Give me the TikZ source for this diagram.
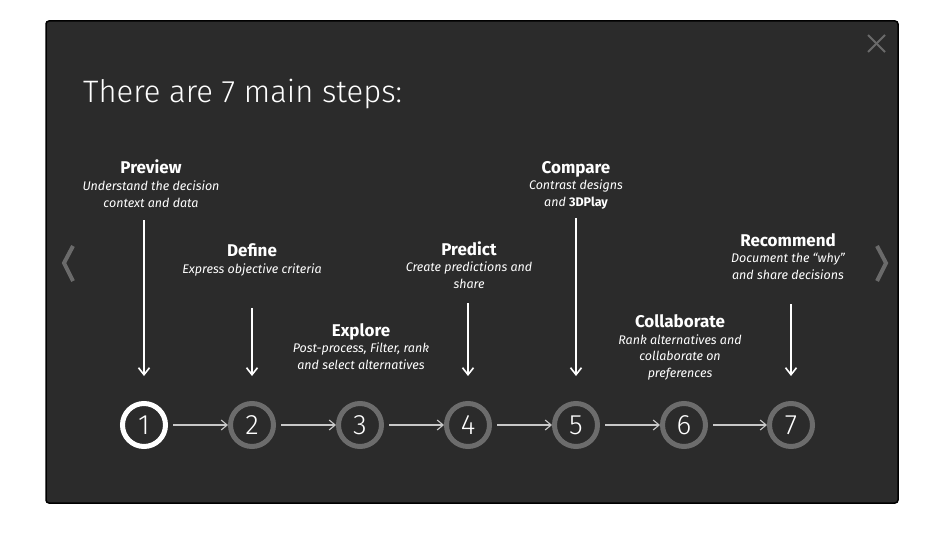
\documentclass[tikz,border=0pt]{standalone}
\usepackage{fontspec}
\setmainfont{Fira Sans}
\newfontfamily\lightfont{Fira Sans Light}
\usetikzlibrary{arrows.meta}

\definecolor{panel}{HTML}{2B2B2B}
\definecolor{ringgray}{HTML}{6C6C6C}
\definecolor{linkgray}{HTML}{C8C8C8}
\definecolor{navgray}{HTML}{6A6A6A}

\tikzset{
  steptext/.style={align=center, text=white, inner sep=0pt, anchor=base,
    font=\fontsize{12.5}{16.5}\selectfont\itshape},
  ring/.style={circle, draw=ringgray, line width=5pt, minimum size=43pt,
    inner sep=0pt, text=white, font=\lightfont\fontsize{28}{30}\selectfont},
  link/.style={draw=linkgray, line width=1.1pt,
    -{Straight Barb[length=6pt,width=10pt]}, shorten <=5pt},
  drop/.style={draw=white, line width=1.6pt,
    -{Straight Barb[length=7pt,width=11pt]}, shorten >=25pt},
}
\newcommand{\steptitle}[1]{{\upshape\bfseries\fontsize{17}{20}\selectfont #1}}

\begin{document}
\begin{tikzpicture}[x=1pt,y=-1pt]

        % page and panel
        \fill [white] (0,0) rectangle (949,540) ;
        \useasboundingbox (0,0) rectangle (949,540) ;
        \draw [fill=panel, draw=black, line width=1.5pt, rounded corners=3pt] (46,21) rectangle (898,503) ;

        % close and navigation
        \draw [navgray, line width=2pt] (868,35) -- (885,52) ;
        \draw [navgray, line width=2pt] (868,52) -- (885,35) ;
        \draw [navgray, line width=4pt] (73,246) -- (64,263) -- (73,281) ;
        \draw [navgray, line width=4pt] (877,246) -- (886,263) -- (877,281) ;

        \node [anchor=base west, text=white, inner sep=0pt, font=\lightfont\fontsize{31}{36}\selectfont]
          (heading) at (83,103) {There are 7 main steps:} ;

        % steps
        \node [ring, draw=white] (c1) at (144,425) {1} ;
        \node [ring] (c2) at (252,425) {2} ;
        \node [ring] (c3) at (360,425) {3} ;
        \node [ring] (c4) at (468,425) {4} ;
        \node [ring] (c5) at (576,425) {5} ;
        \node [ring] (c6) at (684,425) {6} ;
        \node [ring] (c7) at (791,425) {7} ;

        \draw [link] (c1) -- (c2) ;
        \draw [link] (c2) -- (c3) ;
        \draw [link] (c3) -- (c4) ;
        \draw [link] (c4) -- (c5) ;
        \draw [link] (c5) -- (c6) ;
        \draw [link] (c6) -- (c7) ;

        % labels sit on the baseline of their last line
        \node [steptext] (preview) at (151,207) {\steptitle{Preview}\\Understand the decision\\context and data} ;
        \node [steptext] (define) at (252,273) {\steptitle{Define}\\Express objective criteria} ;
        \node [steptext] (explore) at (361,369) {\steptitle{Explore}\\Post-process, Filter, rank\\and select alternatives} ;
        \node [steptext] (predict) at (469,288) {\steptitle{Predict}\\Create predictions and\\share} ;
        \node [steptext] (compare) at (576,206) {\steptitle{Compare}\\Contrast designs\\and {\upshape\bfseries 3DPlay}} ;
        \node [steptext] (collab) at (680,377) {\steptitle{Collaborate}\\Rank alternatives and\\collaborate on\\preferences} ;
        \node [steptext] (recommend) at (788,279) {\steptitle{Recommend}\\Document the ``why''\\and share decisions} ;

        \draw [drop, shorten <=13pt] (preview.south -| c1.north) -- (c1.north) ;
        \draw [drop, shorten <=32pt] (define.south -| c2.north) -- (c2.north) ;
        \draw [drop, shorten <=15pt] (predict.south -| c4.north) -- (c4.north) ;
        \draw [drop, shorten <=9pt] (compare.south -| c5.north) -- (c5.north) ;
        \draw [drop, shorten <=25pt] (recommend.south -| c7.north) -- (c7.north) ;

      \end{tikzpicture}
\end{document}
